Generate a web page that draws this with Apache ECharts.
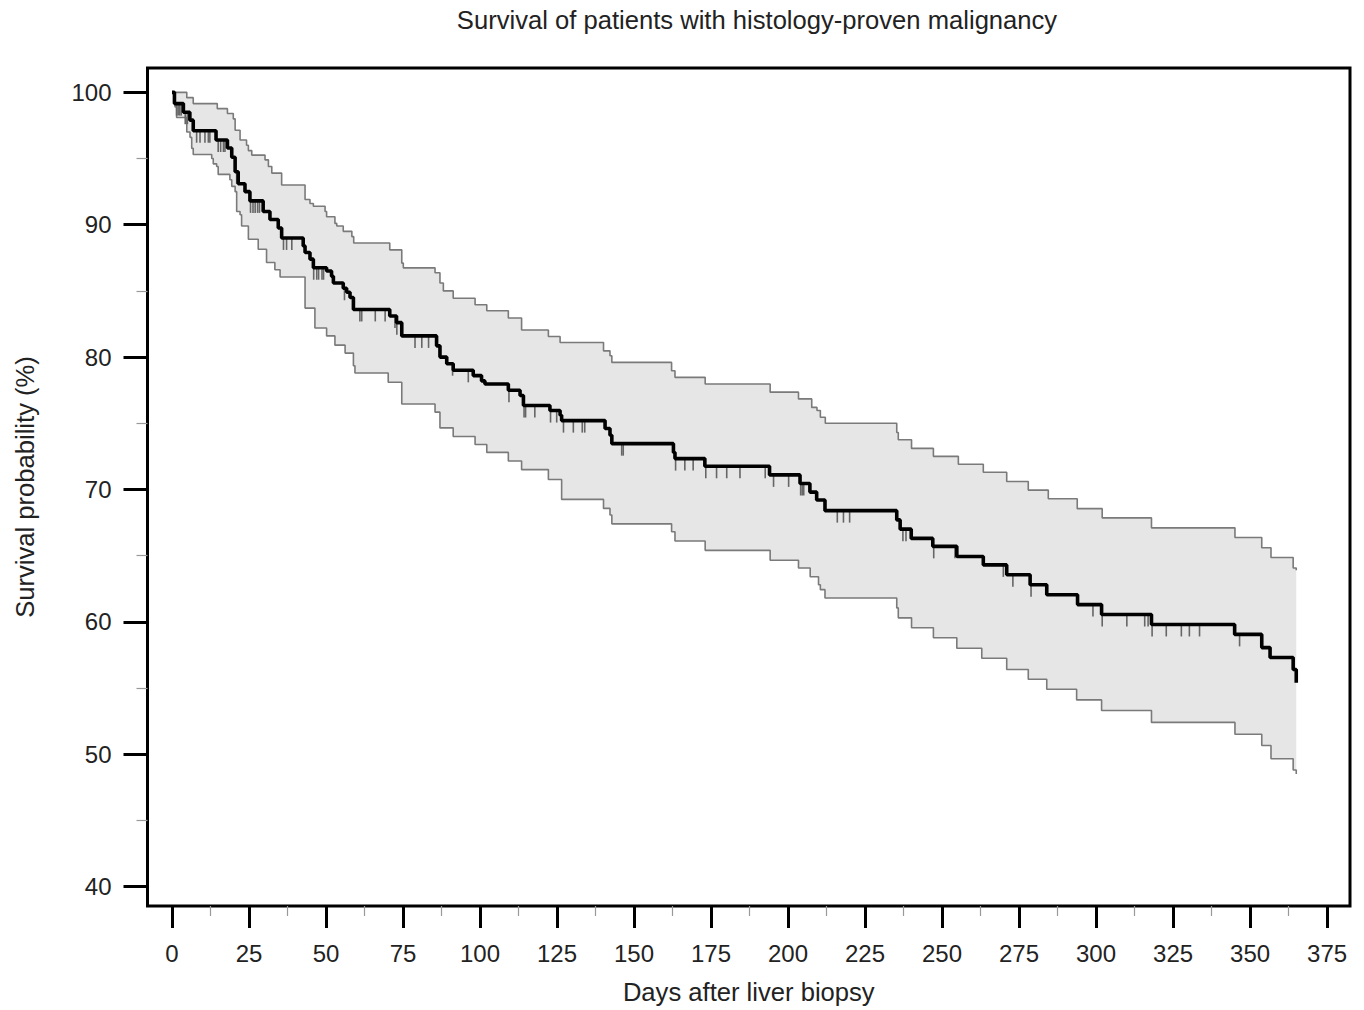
<!DOCTYPE html>
<html><head><meta charset="utf-8">
<script src="https://cdn.jsdelivr.net/npm/echarts@6/dist/echarts.min.js"></script>
<style>html,body{margin:0;padding:0;background:#fff}#c{width:1364px;height:1010px}</style>
</head><body><div id="c"></div>
<script>
// Kaplan-Meier estimate (day of event, survival % after event)
const kmDays = [0, 0.8, 3.7, 5.8, 6.9, 14.3, 18.0, 19.4, 20.5, 21.5,
  23.7, 25.3, 29.6, 31.8, 34.5, 35.6, 42.6, 43.2, 44.8, 45.9,
  50.2, 51.8, 52.4, 55.6, 56.7, 57.8, 58.9, 70.7, 72.9, 74.6,
  85.9, 87.0, 89.2, 91.3, 97.8, 100.5, 101.6, 109.2, 113.0, 114.1,
  122.7, 126.0, 126.5, 140.6, 142.2, 142.8, 162.8, 163.3, 173.0, 194.0,
  203.9, 207.1, 209.3, 212.0, 235.3, 236.4, 240.0, 247.0, 254.8, 263.4,
  271.0, 278.6, 284.0, 294.0, 301.8, 318.0, 345.0, 353.8, 356.5, 364.0,
  365.0];
const kmVals = [100, 99.15, 98.5, 97.9, 97.1, 96.4, 95.8, 95.1, 94.0, 93.1,
  92.5, 91.8, 91.0, 90.4, 89.75, 89.0, 88.4, 87.9, 87.4, 86.75,
  86.5, 86.1, 85.6, 85.2, 84.9, 84.5, 83.6, 83.1, 82.6, 81.6,
  80.85, 80.0, 79.5, 79.0, 78.6, 78.2, 77.97, 77.5, 77.1, 76.34,
  75.96, 75.6, 75.2, 74.6, 74.1, 73.46, 72.8, 72.33, 71.75, 71.1,
  70.45, 69.8, 69.2, 68.4, 67.7, 67.0, 66.3, 65.7, 64.94, 64.3,
  63.55, 62.8, 62.05, 61.3, 60.55, 59.8, 59.05, 58.05, 57.3, 56.4,
  55.4];

// upper 95% confidence limit
const upperDays = [0, 4.8, 6.9, 14.7, 18.0, 19.9, 20.5, 22.1, 24.2, 24.8,
  25.9, 30.2, 31.3, 32.4, 35.6, 43.2, 44.8, 45.9, 49.7, 50.2,
  52.9, 53.5, 55.6, 58.4, 59.0, 70.7, 74.6, 75.1, 85.4, 87.0,
  88.1, 91.3, 98.4, 102.2, 109.2, 113.5, 122.2, 126.0, 140.1, 142.2,
  142.8, 162.2, 163.3, 173.1, 194.2, 203.4, 207.7, 209.4, 210.5, 212.1,
  235.3, 235.8, 240.1, 247.2, 255.3, 263.4, 271.0, 278.0, 284.5, 293.9,
  302.0, 318.0, 345.1, 353.8, 356.8, 364.0, 365.0];
const upperVals = [100, 99.6, 99.15, 98.77, 98.4, 98.0, 97.14, 96.4, 96.0, 95.6,
  95.26, 94.9, 94.4, 93.9, 93.0, 91.9, 91.6, 91.4, 91.0, 90.6,
  90.1, 89.9, 89.5, 89.1, 88.62, 88.1, 87.1, 86.74, 86.37, 85.6,
  85.0, 84.45, 83.95, 83.5, 82.95, 82.05, 81.55, 81.1, 80.47, 80.1,
  79.6, 78.97, 78.47, 77.97, 77.35, 76.84, 76.2, 75.96, 75.46, 75.0,
  74.3, 73.75, 73.1, 72.5, 71.9, 71.3, 70.6, 69.95, 69.3, 68.55,
  67.85, 67.1, 66.37, 65.6, 64.86, 64.06, 63.9];

// lower 95% confidence limit
const lowerDays = [0, 1.0, 1.5, 4.8, 5.85, 6.4, 6.9, 12.9, 13.4, 14.5,
  15.0, 18.8, 19.4, 20.5, 21.0, 22.1, 22.6, 24.8, 28.0, 30.7,
  33.4, 35.1, 43.2, 46.4, 50.2, 52.9, 56.2, 58.9, 59.4, 70.2,
  74.6, 85.4, 87.0, 91.3, 98.4, 102.2, 109.2, 113.5, 122.2, 126.5,
  140.1, 142.2, 142.8, 162.2, 163.3, 173.1, 194.2, 203.4, 207.2, 209.9,
  210.5, 212.0, 235.3, 235.8, 240.1, 247.2, 254.8, 262.9, 271.0, 278.0,
  284.0, 293.7, 301.8, 318.0, 345.1, 353.8, 356.8, 364.0, 365.0];
const lowerVals = [100, 98.9, 98.1, 97.0, 96.6, 95.77, 95.3, 95.0, 94.6, 94.4,
  93.8, 93.4, 92.9, 92.5, 91.0, 90.75, 89.9, 88.9, 88.15, 87.15,
  86.6, 86.05, 83.7, 82.2, 81.6, 80.9, 80.3, 79.35, 78.8, 78.1,
  76.45, 75.84, 74.65, 74.0, 73.4, 72.8, 72.15, 71.5, 70.75, 69.25,
  68.57, 68.07, 67.4, 66.8, 66.1, 65.4, 64.65, 64.06, 63.4, 62.8,
  62.43, 61.8, 61.05, 60.3, 59.55, 58.8, 58.0, 57.25, 56.4, 55.66,
  54.9, 54.1, 53.3, 52.4, 51.5, 50.65, 49.65, 48.8, 48.5];

// censored observations (days)
const censorDays = [1.5, 2.0, 2.5, 3.0, 4.3, 5.0, 8.0, 9.1, 10.7, 11.8,
  12.3, 15.0, 15.8, 16.7, 17.2, 21.0, 25.5, 26.3, 27.0, 27.8,
  28.4, 36.2, 37.2, 38.9, 46.0, 47.0, 47.6, 48.7, 49.2, 56.0,
  61.0, 61.6, 66.0, 69.2, 72.4, 73.0, 78.9, 81.1, 83.3, 91.1,
  96.2, 109.4, 114.3, 114.8, 117.8, 122.9, 124.9, 127.1, 130.3, 133.2,
  134.0, 146.0, 146.5, 163.5, 166.5, 169.2, 173.3, 176.8, 180.1, 184.4,
  192.6, 195.3, 200.2, 204.1, 204.6, 205.1, 216.0, 218.0, 220.0, 237.3,
  238.3, 247.3, 254.2, 269.9, 273.0, 278.9, 299.0, 302.0, 310.0, 315.8,
  316.9, 318.2, 322.8, 327.7, 330.3, 333.6, 346.6];

const xTicks = [0, 25, 50, 75, 100, 125, 150, 175, 200, 225, 250, 275, 300, 325, 350, 375];
const xMinorTicks = [12.5, 37.5, 62.5, 87.5, 112.5, 137.5, 162.5, 187.5, 212.5, 237.5, 262.5, 287.5, 312.5, 337.5, 362.5];
const yTicks = [40, 50, 60, 70, 80, 90, 100];
const yMinorTicks = [45, 55, 65, 75, 85, 95];

const FONT = "'Liberation Sans', Arial, sans-serif";
const TXT = '#222';

function pairs(d, v) { return d.map((x, i) => [x, v[i]]); }
function stepPts(d, v) {
  const p = [];
  for (let i = 0; i < d.length; i++) {
    if (i > 0) p.push([d[i], v[i - 1]]);
    p.push([d[i], v[i]]);
  }
  return p;
}
function kmAt(day) {
  let v = kmVals[0];
  for (let i = 0; i < kmDays.length; i++) if (kmDays[i] <= day) v = kmVals[i];
  return v;
}

const upPts = stepPts(upperDays, upperVals);
const loPts = stepPts(lowerDays, lowerVals).reverse();

const XMIN = -7.95, XMAX = 382.45, YMIN = 38.53, YMAX = 101.84;

const chart = echarts.init(document.getElementById('c'), null, { renderer: 'svg' });
chart.setOption({
  animation: false,
  backgroundColor: '#fff',
  title: {
    text: 'Survival of patients with histology-proven malignancy',
    left: 757, top: 7, textAlign: 'center', padding: 0,
    textStyle: { fontFamily: FONT, fontSize: 25.6, fontWeight: 'normal', color: TXT }
  },
  grid: { left: 147.5, right: 14, top: 68, bottom: 100, show: true, borderColor: '#000', borderWidth: 3, backgroundColor: '#fff' },
  xAxis: [{
    type: 'value', min: XMIN, max: XMAX, position: 'bottom',
    name: 'Days after liver biopsy', nameLocation: 'middle', nameGap: 73,
    nameTextStyle: { fontFamily: FONT, fontSize: 25.6, color: TXT },
    axisLine: { show: false, onZero: false },
    axisTick: { show: true, length: 22, customValues: xTicks, lineStyle: { color: '#000', width: 3 } },
    axisLabel: { customValues: xTicks, margin: 35, fontFamily: FONT, fontSize: 24, color: TXT },
    splitLine: { show: false }
  }, {
    type: 'value', min: XMIN, max: XMAX, position: 'bottom',
    axisLine: { show: false, onZero: false },
    axisTick: { show: true, length: 10, customValues: xMinorTicks, lineStyle: { color: '#999', width: 1.2 } },
    axisLabel: { show: false },
    splitLine: { show: false }
  }],
  yAxis: [{
    type: 'value', min: YMIN, max: YMAX, position: 'left',
    name: 'Survival probability (%)', nameLocation: 'middle', nameGap: 110,
    nameTextStyle: { fontFamily: FONT, fontSize: 25.6, color: TXT },
    axisLine: { show: false, onZero: false },
    axisTick: { show: true, length: 24, customValues: yTicks, lineStyle: { color: '#000', width: 3 } },
    axisLabel: { customValues: yTicks, margin: 36, fontFamily: FONT, fontSize: 24, color: TXT },
    splitLine: { show: false }
  }, {
    type: 'value', min: YMIN, max: YMAX, position: 'left',
    axisLine: { show: false, onZero: false },
    axisTick: { show: true, length: 11, customValues: yMinorTicks, lineStyle: { color: '#999', width: 1.2 } },
    axisLabel: { show: false },
    splitLine: { show: false }
  }],
  series: [
    {
      type: 'custom', name: 'CI band', z: 1, clip: true,
      data: [[0, 100]],
      renderItem: function (params, api) {
        if (params.dataIndex !== 0) return null;
        const pts = upPts.concat(loPts).map(p => api.coord(p));
        return { type: 'polygon', shape: { points: pts }, style: { fill: '#e6e6e6', stroke: null } };
      }
    },
    {
      type: 'line', name: 'Upper CI', step: 'end', z: 2, symbol: 'none', silent: true,
      data: pairs(upperDays, upperVals),
      lineStyle: { color: '#7a7a7a', width: 1.6 }
    },
    {
      type: 'line', name: 'Lower CI', step: 'end', z: 2, symbol: 'none', silent: true,
      data: pairs(lowerDays, lowerVals),
      lineStyle: { color: '#7a7a7a', width: 1.6 }
    },
    {
      type: 'custom', name: 'Censored', z: 3,
      data: censorDays.map(d => [d, kmAt(d)]),
      renderItem: function (params, api) {
        const p = api.coord([api.value(0), api.value(1)]);
        return { type: 'line', shape: { x1: p[0], y1: p[1], x2: p[0], y2: p[1] + 12 }, style: { stroke: '#666', lineWidth: 1.6 } };
      }
    },
    {
      type: 'line', name: 'Survival', step: 'end', z: 4, symbol: 'none', silent: true,
      data: pairs(kmDays, kmVals),
      lineStyle: { color: '#000', width: 3.6 }
    }
  ]
});
</script>
</body></html>
